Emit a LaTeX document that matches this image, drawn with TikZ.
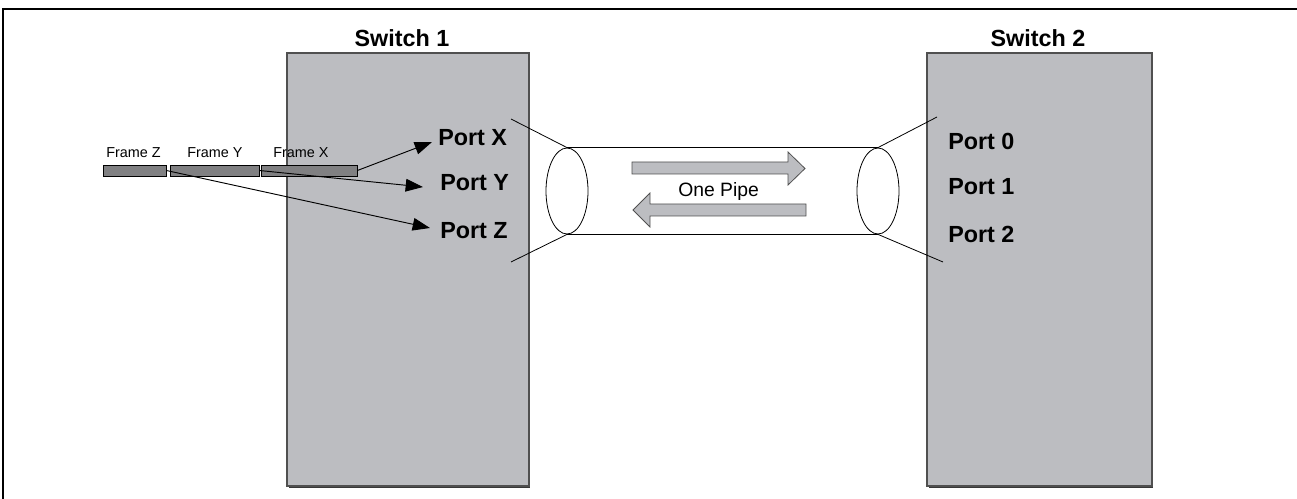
\documentclass[tikz,border=0pt]{standalone}
\usepackage{fontspec}
\setmainfont{Liberation Sans}
\usetikzlibrary{arrows.meta,shapes.geometric}
\definecolor{swfill}{RGB}{188,189,193}
\definecolor{swline}{RGB}{80,80,80}
\definecolor{frfill}{RGB}{128,128,130}
\begin{document}
\begin{tikzpicture}[x=0.75pt,y=-0.75pt,
  switchbox/.style={draw=swline,fill=swfill,line width=0.9pt,inner sep=0pt,minimum height=324.75pt},
  title/.style={font=\fontsize{17.5pt}{20pt}\selectfont\bfseries,inner sep=0pt,anchor=base},
  port/.style={font=\fontsize{17.5pt}{20pt}\selectfont\bfseries,inner sep=0pt,anchor=base west},
  framebox/.style={draw=black,fill=frfill,line width=0.6pt,inner sep=0pt,minimum height=8.25pt},
  framelbl/.style={font=\fontsize{10.8pt}{12pt}\selectfont,inner sep=0pt,anchor=base west},
  pipeend/.style={draw=black,ellipse,line width=0.6pt,inner sep=0pt,minimum width=31.5pt,minimum height=64.5pt},
  thin/.style={draw=black,line width=0.6pt},
  portarrow/.style={draw=black,line width=0.7pt,-{Triangle[length=13pt,width=9.5pt]}},
  blockarrow/.style={draw=swline,fill=swfill,line width=0.6pt}
]
\useasboundingbox (0,0) rectangle (1297,499);
% outer frame (top and left edges)
\draw[line width=1.5pt] (3,499) -- (3,9) -- (1297,9);

% switches
\draw[swline!70!black,line width=1.2pt] (289,487.5) -- (530,487.5);
\draw[swline!70!black,line width=1.2pt] (929,487.5) -- (1153,487.5);
\node[switchbox,minimum width=181.5pt] (sw1) at (408,269.5) {};
\node[switchbox,minimum width=168.75pt] (sw2) at (1039.5,269.5) {};
\node[title] (t1) at (402,47) {Switch 1};
\node[title] (t2) at (1038,47) {Switch 2};

% ports
\node[port] (px) at (438,146) {Port X};
\node[port] (py) at (440,191) {Port Y};
\node[port] (pz) at (440,239) {Port Z};
\node[port] (p0) at (948,150) {Port 0};
\node[port] (p1) at (948,195) {Port 1};
\node[port] (p2) at (948,243) {Port 2};

% frames
\node[framebox,minimum width=47.25pt] (fz) at (134.5,170.5) {};
\node[framebox,minimum width=66.75pt] (fy) at (214.5,170.5) {};
\node[framebox,minimum width=72pt] (fx) at (309,170.5) {};
\node[framelbl] (lz) at (106,158) {Frame Z};
\node[framelbl] (ly) at (187,158) {Frame Y};
\node[framelbl] (lx) at (273,158) {Frame X};

\draw[portarrow] (fx.east) -- ([shift={(-6,-4)}]px.base west);
\draw[portarrow] (fy.east) -- ([shift={(-17,-4)}]py.base west);
\draw[portarrow] (fz.east) -- ([shift={(-10,-11)}]pz.base west);

% pipe
\node[pipeend] (e1) at (567,191) {};
\node[pipeend] (e2) at (878,191) {};
\draw[thin] (e1.north) -- (e2.north);
\draw[thin] (e1.south) -- (e2.south);
\coordinate (f1) at (511,119);
\coordinate (f2) at (511,262);
\coordinate (f3) at (937,117);
\coordinate (f4) at (943,262);
\draw[thin] (e1.north) -- (f1);
\draw[thin] (e1.south) -- (f2);
\draw[thin] (e2.north) -- (f3);
\draw[thin] (e2.south) -- (f4);

\draw[blockarrow] (632,162) -- (788,162) -- (788,152) -- (805,168.5) -- (788,185) -- (788,174) -- (632,174) -- cycle;
\draw[blockarrow] (806,204) -- (650,204) -- (650,193) -- (633,210) -- (650,227) -- (650,216) -- (806,216) -- cycle;
\node[font=\fontsize{14.5pt}{16pt}\selectfont,inner sep=0pt,anchor=base west] (pipe) at (678,197) {One Pipe};
\end{tikzpicture}
\end{document}
